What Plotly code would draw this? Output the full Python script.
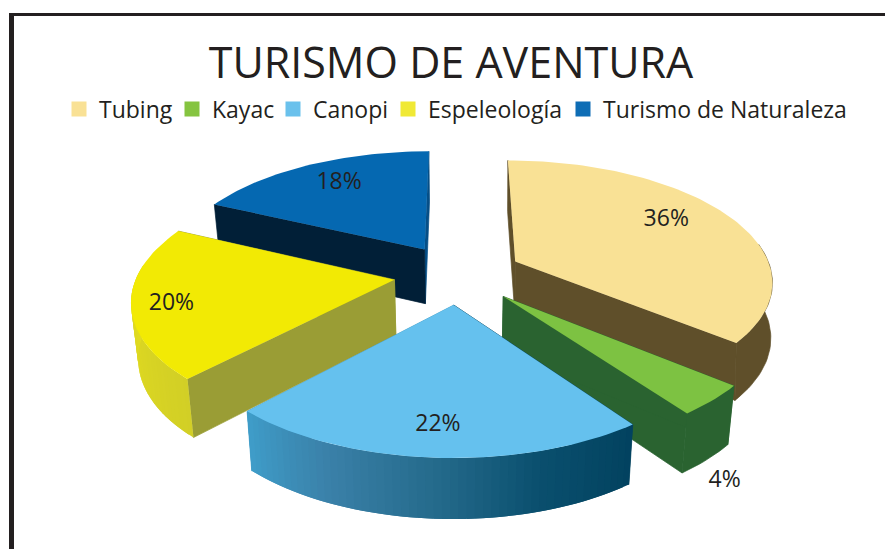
import math
import plotly.graph_objects as go

# --- data ---
categories = ["Tubing", "Kayac", "Canopi", "Espeleología", "Turismo de Naturaleza"]
percent_values = [36, 4, 22, 20, 18]
title_text = "TURISMO DE AVENTURA"

# --- styles ---
top_colors = ["#F9E195", "#7DC242", "#65C1EE", "#F2EA04", "#0568B1"]
legend_colors = ["#F9E195", "#85C440", "#6AC1EC", "#F0E935", "#0E6DB5"]
radial_start_colors = ["#5F4F2A", "#2A6330", "#04455F", "#9A9D35", "#011F37"]
radial_end_colors = ["#5F4F2A", "#2A6330", "#3F9DC9", "#9A9D35", "#064F87"]
outer_ramps = [
    ["#5F4F2A"],
    ["#2A6330"],
    ["#02425F", "#0A4F6E", "#256B8C", "#3A80A8", "#3F9DC9"],
    ["#D2CF26", "#DCD722", "#E4DE1F"],
    ["#011F37"],
]
wall_shrink = [0.995, 0.978, 0.978, 0.978, 0.978]
draw_order = [4, 0, 3, 1, 2]
legend_text_px = [99, 212, 313, 428, 603]
label_reach = [0.95, 1.30, 1.05, 1.10, 0.97]
label_drop = [-8, 75, 2, 5, -3]

W, H = 885, 549
CX, CY = 458, 274
RX, KY = 257, 119.7
EXPLODE, PERSP = 0.25, 0.15
WALL = 55
HIDDEN_BACK = -0.15
INK = "#231F20"


def hex_rgb(c):
    return tuple(int(c[i:i + 2], 16) for i in (1, 3, 5))


def ramp(stops, t):
    if len(stops) == 1:
        return stops[0]
    p = t * (len(stops) - 1)
    i = min(int(p), len(stops) - 2)
    a, b = hex_rgb(stops[i]), hex_rgb(stops[i + 1])
    f = p - i
    return "#%02X%02X%02X" % tuple(round(a[k] + (b[k] - a[k]) * f) for k in range(3))


def direction(deg):
    r = math.radians(deg)
    return math.sin(r), -math.cos(r)


def project(x, z, shrink=None):
    s = 1 / (1 - PERSP * z)
    px = RX * x * s
    py = KY * z * s
    if shrink is not None:
        return CX + px * shrink, CY + py + WALL * math.sqrt(s)
    return CX + px, CY + py


def poly(fig, pts, color, stroke=False):
    pts = list(pts) + [pts[0]]
    line = dict(color=color, width=0.7) if stroke else dict(width=0)
    fig.add_trace(go.Scatter(
        x=[p[0] for p in pts], y=[p[1] for p in pts], mode="lines", fill="toself",
        fillcolor=color, line=line, hoverinfo="skip", showlegend=False,
    ))


fig = go.Figure()
total = sum(percent_values)
starts, acc = [], 0
for v in percent_values:
    starts.append(acc / total * 360)
    acc += v

label_x, label_y = [], []
for i in draw_order:
    a0 = starts[i]
    a1 = a0 + percent_values[i] / total * 360
    mid = (a0 + a1) / 2
    mx, mz = direction(mid)
    tip = (EXPLODE * mx, EXPLODE * mz)
    sh = wall_shrink[i]
    steps = max(2, int((a1 - a0) / 1.5))
    rim, front = [], []
    for k in range(steps + 1):
        dx, dz = direction(a0 + (a1 - a0) * k / steps)
        rim.append((tip[0] + dx, tip[1] + dz))
        if dz > HIDDEN_BACK:
            front.append(rim[-1])
    # radial walls: the end wall first, the start wall over it
    for end, col in ((rim[-1], radial_end_colors[i]), (rim[0], radial_start_colors[i])):
        poly(fig, [project(*tip), project(*end), project(*end, sh), project(*tip, sh)], col, True)
    # outer wall (front part only): one polygon if plain, overlapping bands if it has a gradient
    if len(front) > 1:
        if len(outer_ramps[i]) == 1:
            poly(fig, [project(*p) for p in front] + [project(*p, sh) for p in reversed(front)],
                 outer_ramps[i][0], True)
        else:
            n = len(front) - 1
            for k in range(n):
                part = front[k:k + 3]
                poly(fig, [project(*p) for p in part] + [project(*p, sh) for p in reversed(part)],
                     ramp(outer_ramps[i], (k + 0.5) / n))
    # top face
    poly(fig, [project(*tip)] + [project(*p) for p in rim], top_colors[i])

for i, v in enumerate(percent_values):
    mid = starts[i] + v / total * 180
    mx, mz = direction(mid)
    lx, ly = project(mx * label_reach[i], mz * label_reach[i])
    label_x.append(lx)
    label_y.append(ly + label_drop[i])

fig.add_trace(go.Scatter(
    x=label_x, y=label_y, mode="text", text=[f"{v}%" for v in percent_values],
    textposition="middle center", textfont=dict(family="Open Sans", size=23, color=INK),
    hoverinfo="skip", showlegend=False,
))

legends = {}
for i, name in enumerate(categories):
    key = "legend" if i == 0 else f"legend{i + 1}"
    fig.add_trace(go.Scatter(
        x=[None], y=[None], mode="markers", name=name, legend=key, showlegend=True,
        marker=dict(symbol="square", size=15, color=legend_colors[i]),
    ))
    legends[key] = dict(
        x=(legend_text_px[i] - 40) / W, y=1 - 109 / H, xanchor="left", yanchor="middle",
        orientation="h", bgcolor="rgba(0,0,0,0)", borderwidth=0,
        font=dict(family="Open Sans", size=23, color=INK),
    )

frame = dict(type="line", xref="paper", yref="paper", line=dict(color=INK))
fig.update_layout(
    width=W, height=H, margin=dict(l=0, r=0, t=0, b=0),
    paper_bgcolor="white", plot_bgcolor="white",
    title=dict(text=title_text, x=451 / W, xanchor="center", y=1 - 63 / H, yanchor="middle",
               font=dict(family="Open Sans", size=43, color=INK)),
    xaxis=dict(range=[0, W], visible=False, fixedrange=True),
    yaxis=dict(range=[H, 0], visible=False, fixedrange=True),
    shapes=[
        dict(frame, x0=9 / W, x1=1, y0=1 - 14.5 / H, y1=1 - 14.5 / H, line=dict(color=INK, width=3)),
        dict(frame, x0=11.5 / W, x1=11.5 / W, y0=0, y1=1 - 13 / H, line=dict(color=INK, width=5)),
    ],
    **legends,
)
fig.write_html("out.html", config={"displayModeBar": False},
               post_script="document.body.style.margin='0';")
